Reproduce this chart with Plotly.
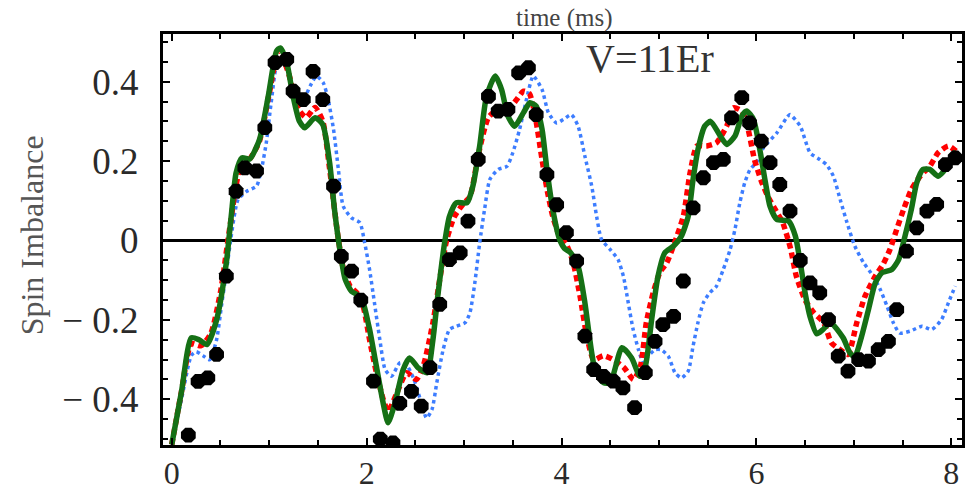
import plotly.graph_objects as go

# ---------------- data ----------------
dots_t = [0.17, 0.27, 0.37, 0.46, 0.56, 0.66, 0.75, 0.87, 0.955, 1.06, 1.18, 1.245, 1.35, 1.45,
          1.55, 1.66, 1.74, 1.845, 1.94, 2.07, 2.14, 2.27, 2.34, 2.46, 2.56, 2.65, 2.75, 2.85,
          2.96, 3.04, 3.145, 3.25, 3.35, 3.45, 3.56, 3.66, 3.74, 3.85, 3.95, 4.05, 4.155, 4.24,
          4.33, 4.43, 4.53, 4.63, 4.75, 4.86, 4.96, 5.04, 5.15, 5.25, 5.35, 5.455, 5.56, 5.66,
          5.745, 5.85, 5.93, 6.05, 6.14, 6.24, 6.345, 6.45, 6.55, 6.65, 6.74, 6.84, 6.94, 7.05,
          7.15, 7.25, 7.355, 7.44, 7.54, 7.645, 7.75, 7.85, 7.94, 8.04]
dots_v = [-0.49, -0.355, -0.346, -0.287, -0.09, 0.124, 0.183, 0.175, 0.284, 0.448, 0.456, 0.376,
          0.355, 0.426, 0.355, 0.137, -0.04, -0.077, -0.15, -0.354, -0.5, -0.51, -0.41, -0.38,
          -0.417, -0.32, -0.161, -0.048, -0.031, 0.049, 0.204, 0.363, 0.326, 0.33, 0.422, 0.435,
          0.317, 0.166, 0.09, 0.02, -0.052, -0.241, -0.325, -0.342, -0.354, -0.371, -0.421,
          -0.333, -0.254, -0.212, -0.191, -0.102, 0.082, 0.158, 0.196, 0.204, 0.309, 0.36, 0.296,
          0.25, 0.196, 0.141, 0.074, -0.05, -0.107, -0.132, -0.199, -0.291, -0.329, -0.3, -0.304,
          -0.275, -0.254, -0.174, -0.027, 0.032, 0.074, 0.091, 0.191, 0.208]

green_t = [0, 0.1, 0.2, 0.28, 0.36, 0.46, 0.56, 0.61, 0.66, 0.72, 0.80, 0.9, 0.99, 1.075, 1.115,
           1.18, 1.245, 1.31, 1.365, 1.47, 1.55, 1.62, 1.67, 1.725, 1.78, 1.845, 1.93, 1.965,
           2.03, 2.10, 2.17, 2.22, 2.29, 2.375, 2.44, 2.53, 2.62, 2.68, 2.73, 2.80, 2.85, 2.92,
           3.03, 3.09, 3.16, 3.23, 3.32, 3.385, 3.45, 3.52, 3.61, 3.675, 3.74, 3.80, 3.85, 3.91,
           3.98, 4.03, 4.09, 4.17, 4.24, 4.29, 4.34, 4.43, 4.50, 4.62, 4.72, 4.805, 4.86, 4.925,
           4.99, 5.06, 5.15, 5.23, 5.30, 5.35, 5.40, 5.47, 5.53, 5.63, 5.695, 5.78, 5.85, 5.90,
           5.97, 6.04, 6.09, 6.14, 6.21, 6.33, 6.40, 6.45, 6.50, 6.55, 6.62, 6.68, 6.76, 6.89,
           6.96, 7.01, 7.08, 7.15, 7.22, 7.29, 7.39, 7.46, 7.525, 7.59, 7.645, 7.71, 7.78, 7.865,
           7.95, 8.05]
green_v = [-0.514, -0.38, -0.245, -0.25, -0.262, -0.20, -0.056, 0.061, 0.17, 0.208, 0.205, 0.254,
           0.363, 0.477, 0.485, 0.448, 0.363, 0.30, 0.284, 0.309, 0.292, 0.196, 0.078, -0.023,
           -0.098, -0.128, -0.14, -0.157, -0.224, -0.317, -0.41, -0.459, -0.41, -0.325, -0.296,
           -0.321, -0.333, -0.25, -0.14, -0.006, 0.061, 0.095, 0.095, 0.137, 0.238, 0.363, 0.414,
           0.38, 0.313, 0.288, 0.322, 0.347, 0.338, 0.28, 0.179, 0.078, 0.003, -0.02, -0.03,
           -0.065, -0.157, -0.249, -0.321, -0.358, -0.358, -0.27, -0.296, -0.342, -0.317, -0.199,
           -0.09, -0.031, -0.014, 0.011, 0.061, 0.154, 0.229, 0.288, 0.30, 0.263, 0.242, 0.263,
           0.313, 0.326, 0.305, 0.222, 0.15, 0.086, 0.053, 0.049, 0.011, -0.056, -0.132, -0.191,
           -0.235, -0.225, -0.207, -0.245, -0.283, -0.293, -0.241, -0.174, -0.107, -0.081, -0.073,
           -0.048, 0.011, 0.078, 0.145, 0.179, 0.179, 0.162, 0.183, 0.225]

red_t = [0, 0.1, 0.2, 0.3, 0.4, 0.5, 0.6, 0.7, 0.8, 0.9, 1.0, 1.1, 1.2, 1.3, 1.38, 1.47, 1.55,
         1.62, 1.7, 1.76, 1.83, 1.9, 1.965, 2.03, 2.10, 2.17, 2.22, 2.31, 2.41, 2.51, 2.58, 2.68,
         2.75, 2.82, 2.9, 3.0, 3.06, 3.15, 3.25, 3.35, 3.45, 3.54, 3.61, 3.67, 3.73, 3.80, 3.85,
         3.91, 3.98, 4.05, 4.12, 4.19, 4.26, 4.33, 4.43, 4.53, 4.64, 4.74, 4.81, 4.87, 4.94,
         5.01, 5.08, 5.16, 5.25, 5.32, 5.39, 5.49, 5.59, 5.695, 5.765, 5.85, 5.915, 5.98, 6.05,
         6.12, 6.2, 6.27, 6.35, 6.41, 6.5, 6.59, 6.69, 6.77, 6.86, 6.94, 7.03, 7.115, 7.22, 7.30,
         7.37, 7.44, 7.51, 7.59, 7.68, 7.78, 7.865, 7.97, 8.05]
red_v = [-0.514, -0.38, -0.26, -0.265, -0.235, -0.13, 0.04, 0.18, 0.205, 0.25, 0.37, 0.48, 0.42,
         0.33, 0.31, 0.335, 0.30, 0.18, 0.02, -0.07, -0.115, -0.132, -0.166, -0.25, -0.333, -0.40,
         -0.43, -0.384, -0.333, -0.35, -0.317, -0.207, -0.098, 0.0, 0.06, 0.095, 0.11, 0.22, 0.31,
         0.33, 0.33, 0.355, 0.376, 0.37, 0.313, 0.204, 0.13, 0.061, 0.011, -0.01, -0.056, -0.14,
         -0.241, -0.30, -0.29, -0.30, -0.32, -0.35, -0.317, -0.207, -0.132, -0.08, -0.056,
         -0.006, 0.061, 0.171, 0.238, 0.238, 0.246, 0.288, 0.334, 0.326, 0.28, 0.204, 0.15, 0.11,
         0.075, 0.045, -0.02, -0.09, -0.15, -0.182, -0.207, -0.258, -0.275, -0.287, -0.207,
         -0.14, -0.09, -0.06, -0.023, 0.028, 0.078, 0.128, 0.162, 0.187, 0.221, 0.238, 0.225]

blue_t = [0, 0.1, 0.2, 0.25, 0.32, 0.39, 0.46, 0.51, 0.56, 0.61, 0.68, 0.77, 0.87, 0.92, 0.97,
          1.02, 1.09, 1.14, 1.21, 1.28, 1.35, 1.42, 1.485, 1.555, 1.605, 1.66, 1.71, 1.76, 1.845,
          1.93, 1.98, 2.03, 2.08, 2.135, 2.19, 2.255, 2.34, 2.40, 2.48, 2.55, 2.615, 2.67, 2.72,
          2.785, 2.85, 2.92, 3.01, 3.06, 3.11, 3.16, 3.21, 3.265, 3.35, 3.44, 3.50, 3.57, 3.64,
          3.71, 3.80, 3.865, 3.95, 4.02, 4.10, 4.17, 4.24, 4.31, 4.36, 4.41, 4.50, 4.58, 4.635,
          4.685, 4.735, 4.79, 4.84, 4.89, 4.96, 5.02, 5.095, 5.165, 5.23, 5.30, 5.35, 5.40,
          5.455, 5.52, 5.59, 5.66, 5.73, 5.78, 5.83, 5.88, 5.935, 6.0, 6.07, 6.21, 6.31, 6.345,
          6.45, 6.55, 6.65, 6.72, 6.79, 6.86, 6.93, 7.01, 7.10, 7.2, 7.27, 7.34, 7.405, 7.47,
          7.58, 7.70, 7.80, 7.90, 7.97, 8.04]
blue_v = [-0.514, -0.4, -0.29, -0.28, -0.29, -0.30, -0.25, -0.165, -0.08, 0.011, 0.103, 0.124,
          0.137, 0.179, 0.246, 0.347, 0.456, 0.46, 0.414, 0.363, 0.355, 0.389, 0.414, 0.397,
          0.355, 0.28, 0.179, 0.086, 0.057, 0.045, -0.006, -0.073, -0.157, -0.249, -0.325,
          -0.342, -0.308, -0.31, -0.346, -0.40, -0.447, -0.426, -0.358, -0.275, -0.224, -0.216,
          -0.207, -0.182, -0.107, -0.006, 0.078, 0.154, 0.179, 0.187, 0.221, 0.28, 0.355, 0.414,
          0.38, 0.322, 0.296, 0.305, 0.317, 0.288, 0.212, 0.137, 0.061, 0.003, -0.023, -0.048,
          -0.09, -0.157, -0.224, -0.275, -0.308, -0.291, -0.275, -0.275, -0.291, -0.333, -0.346,
          -0.329, -0.266, -0.207, -0.157, -0.132, -0.115, -0.073, -0.023, 0.028, 0.095, 0.145,
          0.179, 0.196, 0.233, 0.271, 0.309, 0.317, 0.288, 0.221, 0.204, 0.191, 0.162, 0.103,
          0.045, -0.014, -0.056, -0.09, -0.123, -0.165, -0.207, -0.233, -0.228, -0.216, -0.224,
          -0.199, -0.157, -0.115]

y_tickvals = [-0.4, -0.2, 0, 0.2, 0.4]
y_ticktext = ["\u2212 0.4", "\u2212 0.2", "0", "0.2", "0.4"]
x_tickvals = [0, 2, 4, 6, 8]
x_ticktext = ["0", "2", "4", "6", "8"]

SERIF = "Liberation Serif, Times New Roman, serif"

fig = go.Figure()
fig.add_trace(go.Scatter(x=blue_t, y=blue_v, mode="lines",
                         line=dict(color="#3d7dff", width=3.5, dash="dot", shape="spline", smoothing=0.6),
                         showlegend=False))
fig.add_trace(go.Scatter(x=red_t, y=red_v, mode="lines",
                         line=dict(color="#ff0000", width=5.5, dash="6px,4px", shape="spline", smoothing=0.6),
                         showlegend=False))
fig.add_trace(go.Scatter(x=green_t, y=green_v, mode="lines",
                         line=dict(color="#157015", width=5.5, shape="spline", smoothing=0.6),
                         showlegend=False))
fig.add_trace(go.Scatter(x=dots_t, y=dots_v, mode="markers",
                         marker=dict(symbol="octagon", size=16, color="black", line=dict(width=0)),
                         showlegend=False, cliponaxis=True))

axis_common = dict(showline=True, linecolor="black", linewidth=3, mirror="allticks",
                   ticks="inside", tickcolor="black", tickwidth=2, ticklen=7, automargin=False,
                   showgrid=False)

fig.update_xaxes(range=[-0.09, 8.11], tickmode="array", tickvals=x_tickvals, ticktext=x_ticktext,
                 zeroline=False, ticklabelstandoff=-2,
                 tickfont=dict(family=SERIF, size=32, color="#2a2a2a"),
                 minor=dict(dtick=0.5, tick0=0, ticks="inside", ticklen=5, tickwidth=2,
                            tickcolor="black", showgrid=False),
                 **axis_common)
fig.update_yaxes(range=[-0.515, 0.52], tickmode="array", tickvals=y_tickvals, ticktext=y_ticktext,
                 zeroline=True, zerolinecolor="black", zerolinewidth=2.5, ticklabelstandoff=14,
                 tickfont=dict(family=SERIF, size=37, color="#2a2a2a"),
                 minor=dict(dtick=0.05, tick0=0, ticks="inside", ticklen=5, tickwidth=2,
                            tickcolor="black", showgrid=False),
                 **axis_common)

# y-axis title (placed as rotated text at the reference position)
fig.add_annotation(text="Spin Imbalance", xref="paper", yref="paper", x=-0.164, y=0.51,
                   xanchor="center", yanchor="middle", textangle=-90, showarrow=False,
                   font=dict(family=SERIF, size=32, color="#555555"))
fig.add_annotation(text="time (ms)", xref="paper", yref="paper", x=0.502, y=1.0,
                   xanchor="center", yanchor="bottom", showarrow=False, yshift=0,
                   font=dict(family=SERIF, size=25, color="#444444"))
fig.add_annotation(text="V=11Er", xref="paper", yref="paper", x=0.61, y=0.94,
                   xanchor="center", yanchor="middle", showarrow=False,
                   font=dict(family=SERIF, size=40, color="#333333"))

# the page body has an 8px default margin, so the figure is 8px smaller and
# margins are reduced accordingly to keep the plot area at the reference position
fig.update_layout(width=967, height=485, plot_bgcolor="white", paper_bgcolor="white",
                  margin=dict(l=155, r=13, t=26, b=48))

fig.write_html("out.html")
